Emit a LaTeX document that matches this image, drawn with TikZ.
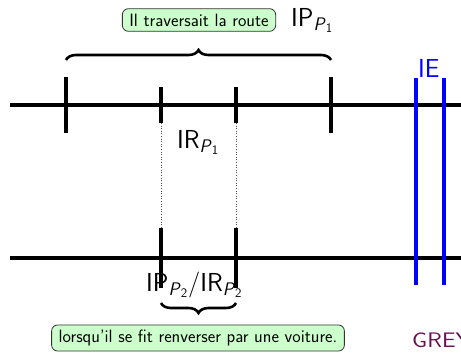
\documentclass[tikz,border=0pt]{standalone}
\usepackage{amsmath}
\usepackage{fontspec}
\usetikzlibrary{decorations.pathreplacing}
\definecolor{boxgreen}{HTML}{CCFFCC}
\definecolor{greyc}{HTML}{6A0F52}
\tikzset{
  axis/.style={line width=4.5pt},
  tick/.style={line width=4pt},
  ieline/.style={line width=4pt, blue},
  dotline/.style={line width=0.6pt, dotted, black!70},
  bracestyle/.style={line width=2.6pt, decorate, decoration={brace, amplitude=10pt}},
  notebox/.style={draw=black!80, line width=0.8pt, fill=boxgreen, rounded corners=6pt,
    inner xsep=7pt, inner ysep=5pt, font=\fontsize{17.9}{21}\selectfont\sffamily},
  biglabel/.style={anchor=base west, inner sep=0pt, font=\fontsize{26}{31}\selectfont\sffamily}
}
\begin{document}
\begin{tikzpicture}[x=1pt,y=-1pt]
\useasboundingbox (0,0) rectangle (461,354);
\clip (0,0) rectangle (461,354);
% axes
\coordinate (t0) at (10,105);
\coordinate (t1) at (461,105);
\coordinate (b0) at (10,258);
\coordinate (b1) at (461,258);
\draw[axis] (t0) -- (t1);
\draw[axis] (b0) -- (b1);
% top ticks
\coordinate (a1) at (66,77);  \coordinate (a2) at (66,133);
\coordinate (d1) at (331,77); \coordinate (d2) at (331,133);
\coordinate (p1) at (161,87); \coordinate (p2) at (161,123);
\coordinate (q1) at (236,87); \coordinate (q2) at (236,123);
\draw[tick] (a1) -- (a2);
\draw[tick] (d1) -- (d2);
\draw[tick] (p1) -- (p2);
\draw[tick] (q1) -- (q2);
% bottom ticks
\coordinate (r1) at (161,228); \coordinate (r2) at (161,288);
\coordinate (s1) at (236,228); \coordinate (s2) at (236,288);
\draw[tick] (r1) -- (r2);
\draw[tick] (s1) -- (s2);
% dotted links
\draw[dotline] (p2) -- (r1);
\draw[dotline] (q2) -- (s1);
% IE lines
\coordinate (e1) at (416,78); \coordinate (e2) at (416,285);
\coordinate (f1) at (444,78); \coordinate (f2) at (444,285);
\draw[ieline] (e1) -- (e2);
\draw[ieline] (f1) -- (f2);
\node[biglabel, text=blue] (ie) at (418,77) {IE};
% braces
\coordinate (ba) at (66,60); \coordinate (bb) at (331,60);
\draw[bracestyle] (ba) -- (bb);
\coordinate (bc) at (236,303); \coordinate (bd) at (161,303);
\draw[bracestyle] (bc) -- (bd);
% boxes
\node[notebox] (box1) at (199,20) {Il traversait la route};
\node[notebox] (box2) at (198,338) {lorsqu'il se fit renverser par une voiture.};
% labels
\node[biglabel] (ip1) at (291,26) {IP$_{\textsf{\textit{P}}_{\textsf{1}}}$};
\node[biglabel] (ir1) at (177,148) {IR$_{\textsf{\textit{P}}_{\textsf{1}}}$};
\node[biglabel] (ip2) at (146,291) {IP$_{\textsf{\textit{P}}_{\textsf{2}}}$/IR$_{\textsf{\textit{P}}_{\textsf{2}}}$};
\node[anchor=base west, inner sep=0pt, text=greyc, xscale=1.15, font=\fontsize{21}{25}\selectfont\sffamily] (gr) at (412,347) {GREYC};
\end{tikzpicture}
\end{document}
